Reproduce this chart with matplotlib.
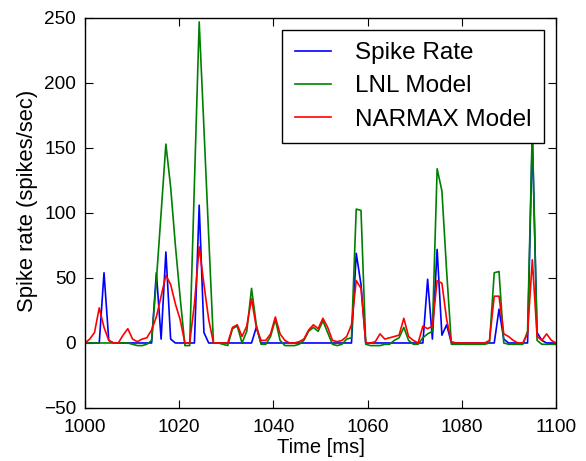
import numpy as np
import matplotlib
matplotlib.use("Agg")
import matplotlib.pyplot as plt

plt.rcParams['font.family'] = ['Liberation Sans', 'DejaVu Sans']

# time axis: 100 samples between 1000 and 1100 ms
time_ms = np.linspace(1000, 1100, 100)

spike_rate = [0, 0, 0, 0, 54, 2, 0, 0, 0, 0,
              0, 0, 0, 0, 0, 54, 3, 70, 3, 0,
              0, 0, 0, 0, 106, 8, 0, 0, 0, 0,
              0, 0, 0, 0, 0, 0, 12, 0, 0, 0,
              0, 0, 0, 0, 0, 0, 0, 0, 0, 0,
              0, 0, 0, 0, 0, 0, 0, 69, 45, 0,
              0, 0, 0, 0, 0, 0, 0, 0, 0, 0,
              0, 0, 49, 3, 72, 6, 14, 0, 0, 0,
              0, 0, 0, 0, 0, 0, 0, 26, 3, 0,
              0, 0, 0, 0, 160, 8, 2, 0, 0, 0]

lnl_model = [0, 0, 0, 0, 0, 0, 0, 0, 0, 0,
             -1, -2, -2, -1, 2, 48, 100, 153, 120, 75,
             35, -2, -2, 123, 247, 165, 82, 0, 0, -1,
             -2, 11, 13, 0, 9, 42, 14, -1, -1, 5,
             18, 2, -2, -2, -2, -1, 2, 9, 12, 9,
             17, 8, -1, -2, -1, 3, 4, 103, 102, -1,
             -2, -2, -2, -1, -1, 2, 4, 12, 2, -1,
             -1, 4, 7, 9, 134, 117, 55, -1, -1, -1,
             -1, -1, -1, -1, -1, 0, 54, 55, 0, -1,
             -1, -1, -1, 9, 165, 2, -1, -1, -1, -1]

narmax_model = [0, 3, 8, 27, 12, 2, 0, 0, 6, 11,
                3, 1, 3, 4, 10, 20, 36, 52, 45, 30,
                18, 0, 0, 30, 74, 45, 18, 0, 0, 0,
                0, 12, 14, 5, 13, 34, 12, 2, 2, 7,
                20, 7, 2, 0, 0, 1, 3, 10, 14, 11,
                19, 12, 2, 1, 2, 5, 14, 48, 42, 0,
                0, 1, 7, 3, 4, 5, 6, 19, 5, 2,
                0, 13, 11, 13, 48, 46, 18, 1, 0, 0,
                0, 0, 0, 0, 0, 2, 36, 36, 7, 5,
                2, 0, 0, 7, 64, 5, 2, 7, 2, 0]

x_ticks = [1000, 1020, 1040, 1060, 1080, 1100]
y_ticks = [-50, 0, 50, 100, 150, 200, 250]

fig = plt.figure(figsize=(5.86, 4.61), dpi=100)
ax = fig.add_axes([0.145, 0.115, 0.804, 0.846])

ax.plot(time_ms, spike_rate, color='b', lw=1.2, label='Spike Rate')
ax.plot(time_ms, lnl_model, color='g', lw=1.2, label='LNL Model')
ax.plot(time_ms, narmax_model, color='r', lw=1.2, label='NARMAX Model')

ax.set_xlim(1000, 1100)
ax.set_ylim(-50, 250)
ax.set_xticks(x_ticks)
ax.set_yticks(y_ticks)
ax.tick_params(direction='in', top=True, right=True, length=5.5, width=0.8,
               labelsize=13.7)
ax.tick_params(axis='x', pad=8)
ax.tick_params(axis='y', pad=6.5)
for s in ax.spines.values():
    s.set_linewidth(1.0)

ax.set_xlabel('Time [ms]', fontsize=14.5, labelpad=1.5)
ax.set_ylabel('Spike rate (spikes/sec)', fontsize=15.8)
ax.yaxis.set_label_coords(-0.1, 0.53)

leg = ax.legend(loc='upper right', fontsize=17.5, fancybox=False,
                edgecolor='black', framealpha=1, handlelength=1.5,
                handletextpad=1.0, labelspacing=0.46, borderpad=0.5,
                borderaxespad=0.5)
leg.get_frame().set_linewidth(1.0)

fig.savefig('out.png', dpi=100)
